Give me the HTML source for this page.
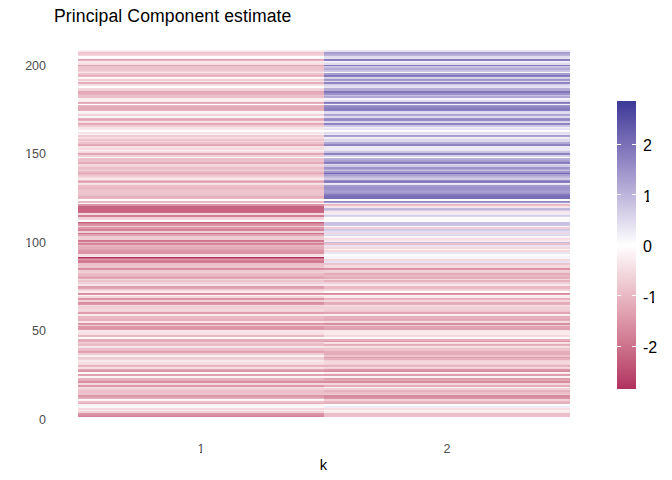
<!DOCTYPE html>
<html><head><meta charset="utf-8"><title>Principal Component estimate</title>
<style>
html,body{margin:0;padding:0;background:#fff;}
body{width:672px;height:480px;position:relative;overflow:hidden;font-family:"Liberation Sans",sans-serif;}
.t{position:absolute;white-space:nowrap;line-height:1;}
#title{left:54px;top:7.5px;font-size:17.6px;color:#000;letter-spacing:0.1px;}
.yl{font-size:12.5px;color:#4d4d4d;right:626px;text-align:right;}
.xl{font-size:12.5px;color:#4d4d4d;width:40px;text-align:center;}
#xt{font-size:14.67px;color:#000;width:40px;text-align:center;left:303.5px;top:457.5px;}
#hm{position:absolute;left:78px;top:50px;width:492px;height:367px;display:block;}
#bar{position:absolute;left:617px;top:101px;width:19px;height:288px;background:linear-gradient(to bottom,#3a3a98 0.00%,#4e48a1 4.17%,#6057a9 8.33%,#7167b2 12.50%,#8176bb 16.67%,#9186c3 20.83%,#a197cc 25.00%,#b1a7d4 29.17%,#c0b8dd 33.33%,#d0cae5 37.50%,#e0dbee 41.67%,#efedf6 45.83%,#ffffff 50.00%,#faeef1 54.17%,#f5dde3 58.33%,#f0cdd5 62.50%,#eabcc7 66.67%,#e4abb9 70.83%,#de9bac 75.00%,#d78a9f 79.17%,#d07a92 83.33%,#c86985 87.50%,#c15778 91.67%,#b8456c 95.83%,#b03060 100.00%);}
.m{position:absolute;background:#fff;}
.tk{position:absolute;height:1px;width:4px;background:#fff;}
.ll{font-size:16px;color:#000;left:643px;}
</style></head><body>
<div class="t" id="title">Principal Component estimate</div>
<div class="t yl" style="top:59.6px">200</div>
<div class="t yl" style="top:148.1px">150</div>
<div class="t yl" style="top:236.6px">100</div>
<div class="t yl" style="top:325.1px">50</div>
<div class="t yl" style="top:413.6px">0</div>
<svg id="hm" width="492" height="367" viewBox="0 0 492 367" shape-rendering="crispEdges">
<g>
<rect x="0" y="0" width="246" height="1" fill="#fbf2f4"/>
<rect x="0" y="1" width="246" height="1" fill="#f8e5e9"/>
<rect x="0" y="2" width="246" height="1" fill="#edc4ce"/>
<rect x="0" y="3" width="246" height="2" fill="#efcbd3"/>
<rect x="0" y="5" width="246" height="1" fill="#f4d8de"/>
<rect x="0" y="6" width="246" height="2" fill="#ffffff"/>
<rect x="0" y="8" width="246" height="1" fill="#fbf2f4"/>
<rect x="0" y="9" width="246" height="1" fill="#e1a4b4"/>
<rect x="0" y="10" width="246" height="1" fill="#e6b1be"/>
<rect x="0" y="11" width="246" height="2" fill="#f9e8ec"/>
<rect x="0" y="13" width="246" height="1" fill="#f7e2e6"/>
<rect x="0" y="14" width="246" height="1" fill="#f6dee3"/>
<rect x="0" y="15" width="246" height="1" fill="#e1a4b4"/>
<rect x="0" y="16" width="246" height="4" fill="#edc4ce"/>
<rect x="0" y="20" width="246" height="1" fill="#eec8d1"/>
<rect x="0" y="21" width="246" height="1" fill="#f1d1d9"/>
<rect x="0" y="22" width="246" height="1" fill="#f8e5e9"/>
<rect x="0" y="23" width="246" height="2" fill="#edc4ce"/>
<rect x="0" y="25" width="246" height="1" fill="#e4abb9"/>
<rect x="0" y="26" width="246" height="1" fill="#e9b8c3"/>
<rect x="0" y="27" width="246" height="1" fill="#fdf8f9"/>
<rect x="0" y="28" width="246" height="1" fill="#fbf2f4"/>
<rect x="0" y="29" width="246" height="2" fill="#efcbd3"/>
<rect x="0" y="31" width="246" height="1" fill="#faebee"/>
<rect x="0" y="32" width="246" height="1" fill="#e4abb9"/>
<rect x="0" y="33" width="246" height="1" fill="#e6b1be"/>
<rect x="0" y="34" width="246" height="2" fill="#f6dee3"/>
<rect x="0" y="36" width="246" height="2" fill="#ffffff"/>
<rect x="0" y="38" width="246" height="1" fill="#f4d8de"/>
<rect x="0" y="39" width="246" height="2" fill="#f1d1d9"/>
<rect x="0" y="41" width="246" height="1" fill="#e1a4b4"/>
<rect x="0" y="42" width="246" height="2" fill="#e4abb9"/>
<rect x="0" y="44" width="246" height="1" fill="#e6b1be"/>
<rect x="0" y="45" width="246" height="1" fill="#edc4ce"/>
<rect x="0" y="46" width="246" height="2" fill="#ebbec9"/>
<rect x="0" y="48" width="246" height="3" fill="#faeff1"/>
<rect x="0" y="51" width="246" height="1" fill="#faebee"/>
<rect x="0" y="52" width="246" height="1" fill="#e1a4b4"/>
<rect x="0" y="53" width="246" height="1" fill="#e6b1be"/>
<rect x="0" y="54" width="246" height="1" fill="#ffffff"/>
<rect x="0" y="55" width="246" height="1" fill="#e9b8c3"/>
<rect x="0" y="56" width="246" height="4" fill="#e4abb9"/>
<rect x="0" y="60" width="246" height="1" fill="#e6b1be"/>
<rect x="0" y="61" width="246" height="1" fill="#fcf5f7"/>
<rect x="0" y="62" width="246" height="1" fill="#fbf2f4"/>
<rect x="0" y="63" width="246" height="1" fill="#faeff1"/>
<rect x="0" y="64" width="246" height="2" fill="#f1d1d9"/>
<rect x="0" y="66" width="246" height="1" fill="#fcf5f7"/>
<rect x="0" y="67" width="246" height="1" fill="#fbf2f4"/>
<rect x="0" y="68" width="246" height="1" fill="#e6b1be"/>
<rect x="0" y="69" width="246" height="1" fill="#e1a4b4"/>
<rect x="0" y="70" width="246" height="1" fill="#e6b1be"/>
<rect x="0" y="71" width="246" height="1" fill="#f8e5e9"/>
<rect x="0" y="72" width="246" height="1" fill="#f6dee3"/>
<rect x="0" y="73" width="246" height="1" fill="#e1a4b4"/>
<rect x="0" y="74" width="246" height="1" fill="#e4abb9"/>
<rect x="0" y="75" width="246" height="2" fill="#efcbd3"/>
<rect x="0" y="77" width="246" height="2" fill="#f8e5e9"/>
<rect x="0" y="79" width="246" height="1" fill="#f9e8ec"/>
<rect x="0" y="80" width="246" height="1" fill="#ffffff"/>
<rect x="0" y="81" width="246" height="1" fill="#fefcfc"/>
<rect x="0" y="82" width="246" height="2" fill="#f8e5e9"/>
<rect x="0" y="84" width="246" height="1" fill="#fcf5f7"/>
<rect x="0" y="85" width="246" height="2" fill="#efcbd3"/>
<rect x="0" y="87" width="246" height="1" fill="#f6dee3"/>
<rect x="0" y="88" width="246" height="1" fill="#f4d8de"/>
<rect x="0" y="89" width="246" height="2" fill="#edc4ce"/>
<rect x="0" y="91" width="246" height="1" fill="#f4d8de"/>
<rect x="0" y="92" width="246" height="2" fill="#edc4ce"/>
<rect x="0" y="94" width="246" height="1" fill="#e4abb9"/>
<rect x="0" y="95" width="246" height="1" fill="#e1a4b4"/>
<rect x="0" y="96" width="246" height="1" fill="#f7e2e6"/>
<rect x="0" y="97" width="246" height="1" fill="#f6dee3"/>
<rect x="0" y="98" width="246" height="2" fill="#f5dbe1"/>
<rect x="0" y="100" width="246" height="1" fill="#faeff1"/>
<rect x="0" y="101" width="246" height="1" fill="#f6dee3"/>
<rect x="0" y="102" width="246" height="1" fill="#f4d8de"/>
<rect x="0" y="103" width="246" height="1" fill="#e1a4b4"/>
<rect x="0" y="104" width="246" height="1" fill="#e4abb9"/>
<rect x="0" y="105" width="246" height="2" fill="#f1d1d9"/>
<rect x="0" y="107" width="246" height="1" fill="#fefcfc"/>
<rect x="0" y="108" width="246" height="1" fill="#edc4ce"/>
<rect x="0" y="109" width="246" height="1" fill="#ebbec9"/>
<rect x="0" y="110" width="246" height="2" fill="#edc4ce"/>
<rect x="0" y="112" width="246" height="2" fill="#e4abb9"/>
<rect x="0" y="114" width="246" height="2" fill="#f4d8de"/>
<rect x="0" y="116" width="246" height="1" fill="#f1d1d9"/>
<rect x="0" y="117" width="246" height="2" fill="#ebbec9"/>
<rect x="0" y="119" width="246" height="1" fill="#edc4ce"/>
<rect x="0" y="120" width="246" height="1" fill="#f1d1d9"/>
<rect x="0" y="121" width="246" height="2" fill="#e9b8c3"/>
<rect x="0" y="123" width="246" height="1" fill="#e1a4b4"/>
<rect x="0" y="124" width="246" height="1" fill="#ebbec9"/>
<rect x="0" y="125" width="246" height="1" fill="#edc4ce"/>
<rect x="0" y="126" width="246" height="1" fill="#f1d1d9"/>
<rect x="0" y="127" width="246" height="1" fill="#f4d8de"/>
<rect x="0" y="128" width="246" height="2" fill="#f9e8ec"/>
<rect x="0" y="130" width="246" height="1" fill="#ebbec9"/>
<rect x="0" y="131" width="246" height="1" fill="#df9eae"/>
<rect x="0" y="132" width="246" height="1" fill="#e4abb9"/>
<rect x="0" y="133" width="246" height="1" fill="#f8e5e9"/>
<rect x="0" y="134" width="246" height="1" fill="#f6dee3"/>
<rect x="0" y="135" width="246" height="2" fill="#ebbec9"/>
<rect x="0" y="137" width="246" height="2" fill="#e9b8c3"/>
<rect x="0" y="139" width="246" height="1" fill="#ebbec9"/>
<rect x="0" y="140" width="246" height="5" fill="#edc4ce"/>
<rect x="0" y="145" width="246" height="1" fill="#ebbec9"/>
<rect x="0" y="146" width="246" height="2" fill="#e6b1be"/>
<rect x="0" y="148" width="246" height="1" fill="#e9b8c3"/>
<rect x="0" y="149" width="246" height="2" fill="#ffffff"/>
<rect x="0" y="151" width="246" height="1" fill="#e9b8c3"/>
<rect x="0" y="152" width="246" height="1" fill="#ebbec9"/>
<rect x="0" y="153" width="246" height="1" fill="#fcf5f7"/>
<rect x="0" y="154" width="246" height="1" fill="#dc98a9"/>
<rect x="0" y="155" width="246" height="1" fill="#da91a4"/>
<rect x="0" y="156" width="246" height="6" fill="#c66481"/>
<rect x="0" y="162" width="246" height="1" fill="#c96a86"/>
<rect x="0" y="163" width="246" height="2" fill="#f4d8de"/>
<rect x="0" y="165" width="246" height="2" fill="#d27e95"/>
<rect x="0" y="167" width="246" height="2" fill="#f1d1d9"/>
<rect x="0" y="169" width="246" height="1" fill="#f4d8de"/>
<rect x="0" y="170" width="246" height="2" fill="#fdf8f9"/>
<rect x="0" y="172" width="246" height="1" fill="#c66481"/>
<rect x="0" y="173" width="246" height="1" fill="#d27e95"/>
<rect x="0" y="174" width="246" height="2" fill="#da91a4"/>
<rect x="0" y="176" width="246" height="1" fill="#f1d1d9"/>
<rect x="0" y="177" width="246" height="2" fill="#dc98a9"/>
<rect x="0" y="179" width="246" height="2" fill="#d4849a"/>
<rect x="0" y="181" width="246" height="2" fill="#f1d1d9"/>
<rect x="0" y="183" width="246" height="1" fill="#cf7790"/>
<rect x="0" y="184" width="246" height="1" fill="#df9eae"/>
<rect x="0" y="185" width="246" height="1" fill="#e1a4b4"/>
<rect x="0" y="186" width="246" height="2" fill="#efcbd3"/>
<rect x="0" y="188" width="246" height="1" fill="#f1d1d9"/>
<rect x="0" y="189" width="246" height="1" fill="#efcbd3"/>
<rect x="0" y="190" width="246" height="2" fill="#cf7790"/>
<rect x="0" y="192" width="246" height="1" fill="#e9b8c3"/>
<rect x="0" y="193" width="246" height="1" fill="#d27e95"/>
<rect x="0" y="194" width="246" height="1" fill="#d78b9f"/>
<rect x="0" y="195" width="246" height="1" fill="#e9b8c3"/>
<rect x="0" y="196" width="246" height="1" fill="#e6b1be"/>
<rect x="0" y="197" width="246" height="2" fill="#e4abb9"/>
<rect x="0" y="199" width="246" height="1" fill="#e1a4b4"/>
<rect x="0" y="200" width="246" height="2" fill="#dc98a9"/>
<rect x="0" y="202" width="246" height="1" fill="#da91a4"/>
<rect x="0" y="203" width="246" height="1" fill="#dc98a9"/>
<rect x="0" y="204" width="246" height="2" fill="#f6dee3"/>
<rect x="0" y="206" width="246" height="1" fill="#f8e5e9"/>
<rect x="0" y="207" width="246" height="1" fill="#b03060"/>
<rect x="0" y="208" width="246" height="1" fill="#c96a86"/>
<rect x="0" y="209" width="246" height="1" fill="#dc98a9"/>
<rect x="0" y="210" width="246" height="1" fill="#d27e95"/>
<rect x="0" y="211" width="246" height="1" fill="#cf7790"/>
<rect x="0" y="212" width="246" height="1" fill="#d27e95"/>
<rect x="0" y="213" width="246" height="1" fill="#ebbec9"/>
<rect x="0" y="214" width="246" height="1" fill="#edc4ce"/>
<rect x="0" y="215" width="246" height="1" fill="#ebbec9"/>
<rect x="0" y="216" width="246" height="1" fill="#efcbd3"/>
<rect x="0" y="217" width="246" height="1" fill="#edc4ce"/>
<rect x="0" y="218" width="246" height="1" fill="#d78b9f"/>
<rect x="0" y="219" width="246" height="1" fill="#da91a4"/>
<rect x="0" y="220" width="246" height="2" fill="#efcbd3"/>
<rect x="0" y="222" width="246" height="1" fill="#f1d1d9"/>
<rect x="0" y="223" width="246" height="1" fill="#ebbec9"/>
<rect x="0" y="224" width="246" height="2" fill="#e9b8c3"/>
<rect x="0" y="226" width="246" height="1" fill="#e6b1be"/>
<rect x="0" y="227" width="246" height="1" fill="#df9eae"/>
<rect x="0" y="228" width="246" height="1" fill="#e4abb9"/>
<rect x="0" y="229" width="246" height="1" fill="#f4d8de"/>
<rect x="0" y="230" width="246" height="2" fill="#edc4ce"/>
<rect x="0" y="232" width="246" height="2" fill="#f1d1d9"/>
<rect x="0" y="234" width="246" height="2" fill="#f8e5e9"/>
<rect x="0" y="236" width="246" height="2" fill="#df9eae"/>
<rect x="0" y="238" width="246" height="1" fill="#e1a4b4"/>
<rect x="0" y="239" width="246" height="1" fill="#efcbd3"/>
<rect x="0" y="240" width="246" height="1" fill="#f4d8de"/>
<rect x="0" y="241" width="246" height="2" fill="#faebee"/>
<rect x="0" y="243" width="246" height="1" fill="#d78b9f"/>
<rect x="0" y="244" width="246" height="1" fill="#dc98a9"/>
<rect x="0" y="245" width="246" height="1" fill="#fcf5f7"/>
<rect x="0" y="246" width="246" height="2" fill="#f4d8de"/>
<rect x="0" y="248" width="246" height="1" fill="#da91a4"/>
<rect x="0" y="249" width="246" height="1" fill="#dc98a9"/>
<rect x="0" y="250" width="246" height="2" fill="#f1d1d9"/>
<rect x="0" y="252" width="246" height="1" fill="#d78b9f"/>
<rect x="0" y="253" width="246" height="1" fill="#da91a4"/>
<rect x="0" y="254" width="246" height="1" fill="#dc98a9"/>
<rect x="0" y="255" width="246" height="1" fill="#f4d8de"/>
<rect x="0" y="256" width="246" height="3" fill="#f1d1d9"/>
<rect x="0" y="259" width="246" height="2" fill="#f4d8de"/>
<rect x="0" y="261" width="246" height="1" fill="#f1d1d9"/>
<rect x="0" y="262" width="246" height="2" fill="#df9eae"/>
<rect x="0" y="264" width="246" height="2" fill="#faebee"/>
<rect x="0" y="266" width="246" height="3" fill="#e9b8c3"/>
<rect x="0" y="269" width="246" height="2" fill="#e6b1be"/>
<rect x="0" y="271" width="246" height="2" fill="#f8e5e9"/>
<rect x="0" y="273" width="246" height="1" fill="#da91a4"/>
<rect x="0" y="274" width="246" height="1" fill="#dc98a9"/>
<rect x="0" y="275" width="246" height="1" fill="#efcbd3"/>
<rect x="0" y="276" width="246" height="2" fill="#dc98a9"/>
<rect x="0" y="278" width="246" height="1" fill="#da91a4"/>
<rect x="0" y="279" width="246" height="1" fill="#df9eae"/>
<rect x="0" y="280" width="246" height="2" fill="#f8e5e9"/>
<rect x="0" y="282" width="246" height="2" fill="#f7e2e6"/>
<rect x="0" y="284" width="246" height="1" fill="#f6dee3"/>
<rect x="0" y="285" width="246" height="2" fill="#e9b8c3"/>
<rect x="0" y="287" width="246" height="1" fill="#fefcfc"/>
<rect x="0" y="288" width="246" height="1" fill="#fcf5f7"/>
<rect x="0" y="289" width="246" height="3" fill="#e4abb9"/>
<rect x="0" y="292" width="246" height="1" fill="#efcbd3"/>
<rect x="0" y="293" width="246" height="1" fill="#edc4ce"/>
<rect x="0" y="294" width="246" height="1" fill="#e9b8c3"/>
<rect x="0" y="295" width="246" height="1" fill="#ebbec9"/>
<rect x="0" y="296" width="246" height="2" fill="#f8e5e9"/>
<rect x="0" y="298" width="246" height="2" fill="#ebbec9"/>
<rect x="0" y="300" width="246" height="1" fill="#e9b8c3"/>
<rect x="0" y="301" width="246" height="1" fill="#df9eae"/>
<rect x="0" y="302" width="246" height="1" fill="#e1a4b4"/>
<rect x="0" y="303" width="246" height="2" fill="#efcbd3"/>
<rect x="0" y="305" width="246" height="2" fill="#faeff1"/>
<rect x="0" y="307" width="246" height="2" fill="#efcbd3"/>
<rect x="0" y="309" width="246" height="1" fill="#f1d1d9"/>
<rect x="0" y="310" width="246" height="2" fill="#f9e8ec"/>
<rect x="0" y="312" width="246" height="2" fill="#f6dee3"/>
<rect x="0" y="314" width="246" height="1" fill="#f4d8de"/>
<rect x="0" y="315" width="246" height="1" fill="#e6b1be"/>
<rect x="0" y="316" width="246" height="1" fill="#e9b8c3"/>
<rect x="0" y="317" width="246" height="2" fill="#f6dee3"/>
<rect x="0" y="319" width="246" height="1" fill="#e1a4b4"/>
<rect x="0" y="320" width="246" height="1" fill="#df9eae"/>
<rect x="0" y="321" width="246" height="1" fill="#da91a4"/>
<rect x="0" y="322" width="246" height="2" fill="#ffffff"/>
<rect x="0" y="324" width="246" height="1" fill="#df9eae"/>
<rect x="0" y="325" width="246" height="1" fill="#e1a4b4"/>
<rect x="0" y="326" width="246" height="1" fill="#fcf5f7"/>
<rect x="0" y="327" width="246" height="1" fill="#fbf2f4"/>
<rect x="0" y="328" width="246" height="2" fill="#e6b1be"/>
<rect x="0" y="330" width="246" height="1" fill="#e4abb9"/>
<rect x="0" y="331" width="246" height="1" fill="#d78b9f"/>
<rect x="0" y="332" width="246" height="1" fill="#da91a4"/>
<rect x="0" y="333" width="246" height="2" fill="#f4d8de"/>
<rect x="0" y="335" width="246" height="2" fill="#dc98a9"/>
<rect x="0" y="337" width="246" height="1" fill="#f6dee3"/>
<rect x="0" y="338" width="246" height="2" fill="#f1d1d9"/>
<rect x="0" y="340" width="246" height="3" fill="#ebbec9"/>
<rect x="0" y="343" width="246" height="2" fill="#edc4ce"/>
<rect x="0" y="345" width="246" height="2" fill="#dc98a9"/>
<rect x="0" y="347" width="246" height="1" fill="#e1a4b4"/>
<rect x="0" y="348" width="246" height="1" fill="#e6b1be"/>
<rect x="0" y="349" width="246" height="1" fill="#fdf8f9"/>
<rect x="0" y="350" width="246" height="1" fill="#fcf5f7"/>
<rect x="0" y="351" width="246" height="2" fill="#ebbec9"/>
<rect x="0" y="353" width="246" height="1" fill="#e4abb9"/>
<rect x="0" y="354" width="246" height="1" fill="#fcf5f7"/>
<rect x="0" y="355" width="246" height="1" fill="#fbf2f4"/>
<rect x="0" y="356" width="246" height="2" fill="#fdf8f9"/>
<rect x="0" y="358" width="246" height="2" fill="#f4d8de"/>
<rect x="0" y="360" width="246" height="1" fill="#faebee"/>
<rect x="0" y="361" width="246" height="2" fill="#f1d1d9"/>
<rect x="0" y="363" width="246" height="1" fill="#dc98a9"/>
<rect x="0" y="364" width="246" height="1" fill="#da91a4"/>
<rect x="0" y="365" width="246" height="1" fill="#d78b9f"/>
<rect x="0" y="366" width="246" height="1" fill="#d4849a"/>
</g>
<g>
<rect x="246" y="0" width="246" height="2" fill="#e7e3f2"/>
<rect x="246" y="2" width="246" height="1" fill="#a49acd"/>
<rect x="246" y="3" width="246" height="1" fill="#aaa0d1"/>
<rect x="246" y="4" width="246" height="1" fill="#b6add7"/>
<rect x="246" y="5" width="246" height="1" fill="#bcb4db"/>
<rect x="246" y="6" width="246" height="2" fill="#e1dcee"/>
<rect x="246" y="8" width="246" height="1" fill="#e7e3f2"/>
<rect x="246" y="9" width="246" height="1" fill="#857abd"/>
<rect x="246" y="10" width="246" height="1" fill="#8b81c0"/>
<rect x="246" y="11" width="246" height="1" fill="#f6f5fa"/>
<rect x="246" y="12" width="246" height="1" fill="#edeaf5"/>
<rect x="246" y="13" width="246" height="2" fill="#e1dcee"/>
<rect x="246" y="15" width="246" height="1" fill="#857abd"/>
<rect x="246" y="16" width="246" height="1" fill="#cec8e5"/>
<rect x="246" y="17" width="246" height="1" fill="#c2bbde"/>
<rect x="246" y="18" width="246" height="2" fill="#b6add7"/>
<rect x="246" y="20" width="246" height="1" fill="#c8c1e1"/>
<rect x="246" y="21" width="246" height="1" fill="#cec8e5"/>
<rect x="246" y="22" width="246" height="1" fill="#f6f5fa"/>
<rect x="246" y="23" width="246" height="1" fill="#a49acd"/>
<rect x="246" y="24" width="246" height="1" fill="#aaa0d1"/>
<rect x="246" y="25" width="246" height="1" fill="#7f74b9"/>
<rect x="246" y="26" width="246" height="1" fill="#8b81c0"/>
<rect x="246" y="27" width="246" height="1" fill="#dad6eb"/>
<rect x="246" y="28" width="246" height="1" fill="#d4cfe8"/>
<rect x="246" y="29" width="246" height="1" fill="#9e94ca"/>
<rect x="246" y="30" width="246" height="1" fill="#a49acd"/>
<rect x="246" y="31" width="246" height="1" fill="#e1dcee"/>
<rect x="246" y="32" width="246" height="1" fill="#8b81c0"/>
<rect x="246" y="33" width="246" height="1" fill="#9187c3"/>
<rect x="246" y="34" width="246" height="1" fill="#d4cfe8"/>
<rect x="246" y="35" width="246" height="1" fill="#dad6eb"/>
<rect x="246" y="36" width="246" height="2" fill="#e7e3f2"/>
<rect x="246" y="38" width="246" height="2" fill="#b6add7"/>
<rect x="246" y="40" width="246" height="1" fill="#b0a7d4"/>
<rect x="246" y="41" width="246" height="1" fill="#7f74b9"/>
<rect x="246" y="42" width="246" height="1" fill="#857abd"/>
<rect x="246" y="43" width="246" height="1" fill="#988dc7"/>
<rect x="246" y="44" width="246" height="1" fill="#9e94ca"/>
<rect x="246" y="45" width="246" height="1" fill="#c8c1e1"/>
<rect x="246" y="46" width="246" height="2" fill="#b0a7d4"/>
<rect x="246" y="48" width="246" height="2" fill="#f6f5fa"/>
<rect x="246" y="50" width="246" height="2" fill="#e1dcee"/>
<rect x="246" y="52" width="246" height="1" fill="#7f74b9"/>
<rect x="246" y="53" width="246" height="1" fill="#9187c3"/>
<rect x="246" y="54" width="246" height="1" fill="#f3f1f8"/>
<rect x="246" y="55" width="246" height="1" fill="#9e94ca"/>
<rect x="246" y="56" width="246" height="1" fill="#988dc7"/>
<rect x="246" y="57" width="246" height="2" fill="#8b81c0"/>
<rect x="246" y="59" width="246" height="1" fill="#857abd"/>
<rect x="246" y="60" width="246" height="1" fill="#8b81c0"/>
<rect x="246" y="61" width="246" height="1" fill="#dad6eb"/>
<rect x="246" y="62" width="246" height="2" fill="#e1dcee"/>
<rect x="246" y="64" width="246" height="1" fill="#aaa0d1"/>
<rect x="246" y="65" width="246" height="1" fill="#b0a7d4"/>
<rect x="246" y="66" width="246" height="1" fill="#e1dcee"/>
<rect x="246" y="67" width="246" height="1" fill="#dad6eb"/>
<rect x="246" y="68" width="246" height="1" fill="#9e94ca"/>
<rect x="246" y="69" width="246" height="1" fill="#9187c3"/>
<rect x="246" y="70" width="246" height="1" fill="#988dc7"/>
<rect x="246" y="71" width="246" height="1" fill="#d4cfe8"/>
<rect x="246" y="72" width="246" height="1" fill="#e1dcee"/>
<rect x="246" y="73" width="246" height="1" fill="#8b81c0"/>
<rect x="246" y="74" width="246" height="1" fill="#9187c3"/>
<rect x="246" y="75" width="246" height="2" fill="#cec8e5"/>
<rect x="246" y="77" width="246" height="1" fill="#f3f1f8"/>
<rect x="246" y="78" width="246" height="2" fill="#e7e3f2"/>
<rect x="246" y="80" width="246" height="1" fill="#ffffff"/>
<rect x="246" y="81" width="246" height="1" fill="#fcfbfd"/>
<rect x="246" y="82" width="246" height="2" fill="#e1dcee"/>
<rect x="246" y="84" width="246" height="1" fill="#edeaf5"/>
<rect x="246" y="85" width="246" height="1" fill="#a49acd"/>
<rect x="246" y="86" width="246" height="1" fill="#aaa0d1"/>
<rect x="246" y="87" width="246" height="1" fill="#f3f1f8"/>
<rect x="246" y="88" width="246" height="1" fill="#edeaf5"/>
<rect x="246" y="89" width="246" height="2" fill="#dad6eb"/>
<rect x="246" y="91" width="246" height="1" fill="#e1dcee"/>
<rect x="246" y="92" width="246" height="2" fill="#b0a7d4"/>
<rect x="246" y="94" width="246" height="1" fill="#9187c3"/>
<rect x="246" y="95" width="246" height="1" fill="#8b81c0"/>
<rect x="246" y="96" width="246" height="4" fill="#edeaf5"/>
<rect x="246" y="100" width="246" height="1" fill="#e7e3f2"/>
<rect x="246" y="101" width="246" height="1" fill="#cec8e5"/>
<rect x="246" y="102" width="246" height="1" fill="#c8c1e1"/>
<rect x="246" y="103" width="246" height="1" fill="#8b81c0"/>
<rect x="246" y="104" width="246" height="1" fill="#9187c3"/>
<rect x="246" y="105" width="246" height="1" fill="#d4cfe8"/>
<rect x="246" y="106" width="246" height="1" fill="#dad6eb"/>
<rect x="246" y="107" width="246" height="1" fill="#ffffff"/>
<rect x="246" y="108" width="246" height="1" fill="#bcb4db"/>
<rect x="246" y="109" width="246" height="1" fill="#b6add7"/>
<rect x="246" y="110" width="246" height="1" fill="#aaa0d1"/>
<rect x="246" y="111" width="246" height="1" fill="#a49acd"/>
<rect x="246" y="112" width="246" height="1" fill="#857abd"/>
<rect x="246" y="113" width="246" height="1" fill="#8b81c0"/>
<rect x="246" y="114" width="246" height="1" fill="#e1dcee"/>
<rect x="246" y="115" width="246" height="2" fill="#cec8e5"/>
<rect x="246" y="117" width="246" height="2" fill="#9e94ca"/>
<rect x="246" y="119" width="246" height="1" fill="#b0a7d4"/>
<rect x="246" y="120" width="246" height="1" fill="#c8c1e1"/>
<rect x="246" y="121" width="246" height="1" fill="#a49acd"/>
<rect x="246" y="122" width="246" height="1" fill="#9e94ca"/>
<rect x="246" y="123" width="246" height="1" fill="#7268b3"/>
<rect x="246" y="124" width="246" height="2" fill="#aaa0d1"/>
<rect x="246" y="126" width="246" height="1" fill="#bcb4db"/>
<rect x="246" y="127" width="246" height="1" fill="#c2bbde"/>
<rect x="246" y="128" width="246" height="1" fill="#d4cfe8"/>
<rect x="246" y="129" width="246" height="1" fill="#cec8e5"/>
<rect x="246" y="130" width="246" height="1" fill="#988dc7"/>
<rect x="246" y="131" width="246" height="1" fill="#7f74b9"/>
<rect x="246" y="132" width="246" height="1" fill="#8b81c0"/>
<rect x="246" y="133" width="246" height="1" fill="#edeaf5"/>
<rect x="246" y="134" width="246" height="1" fill="#e7e3f2"/>
<rect x="246" y="135" width="246" height="2" fill="#a49acd"/>
<rect x="246" y="137" width="246" height="1" fill="#988dc7"/>
<rect x="246" y="138" width="246" height="2" fill="#9e94ca"/>
<rect x="246" y="140" width="246" height="1" fill="#a49acd"/>
<rect x="246" y="141" width="246" height="1" fill="#aaa0d1"/>
<rect x="246" y="142" width="246" height="1" fill="#a49acd"/>
<rect x="246" y="143" width="246" height="1" fill="#9e94ca"/>
<rect x="246" y="144" width="246" height="1" fill="#857abd"/>
<rect x="246" y="145" width="246" height="1" fill="#7f74b9"/>
<rect x="246" y="146" width="246" height="3" fill="#786eb6"/>
<rect x="246" y="149" width="246" height="2" fill="#ffffff"/>
<rect x="246" y="151" width="246" height="1" fill="#9187c3"/>
<rect x="246" y="152" width="246" height="1" fill="#a49acd"/>
<rect x="246" y="153" width="246" height="1" fill="#f3f1f8"/>
<rect x="246" y="154" width="246" height="1" fill="#e9b8c3"/>
<rect x="246" y="155" width="246" height="1" fill="#ebbec9"/>
<rect x="246" y="156" width="246" height="2" fill="#f8e5e9"/>
<rect x="246" y="158" width="246" height="1" fill="#c2bbde"/>
<rect x="246" y="159" width="246" height="1" fill="#bcb4db"/>
<rect x="246" y="160" width="246" height="1" fill="#d4cfe8"/>
<rect x="246" y="161" width="246" height="2" fill="#f8e5e9"/>
<rect x="246" y="163" width="246" height="1" fill="#f0eef7"/>
<rect x="246" y="164" width="246" height="1" fill="#edeaf5"/>
<rect x="246" y="165" width="246" height="1" fill="#d4cfe8"/>
<rect x="246" y="166" width="246" height="1" fill="#dad6eb"/>
<rect x="246" y="167" width="246" height="1" fill="#fcfbfd"/>
<rect x="246" y="168" width="246" height="1" fill="#ffffff"/>
<rect x="246" y="169" width="246" height="1" fill="#fbf2f4"/>
<rect x="246" y="170" width="246" height="1" fill="#ffffff"/>
<rect x="246" y="171" width="246" height="1" fill="#fcfbfd"/>
<rect x="246" y="172" width="246" height="3" fill="#c8c1e1"/>
<rect x="246" y="175" width="246" height="1" fill="#cec8e5"/>
<rect x="246" y="176" width="246" height="1" fill="#f6f5fa"/>
<rect x="246" y="177" width="246" height="1" fill="#efcbd3"/>
<rect x="246" y="178" width="246" height="1" fill="#f1d1d9"/>
<rect x="246" y="179" width="246" height="1" fill="#cec8e5"/>
<rect x="246" y="180" width="246" height="1" fill="#d4cfe8"/>
<rect x="246" y="181" width="246" height="2" fill="#e1dcee"/>
<rect x="246" y="183" width="246" height="1" fill="#f4d8de"/>
<rect x="246" y="184" width="246" height="1" fill="#e1dcee"/>
<rect x="246" y="185" width="246" height="1" fill="#dad6eb"/>
<rect x="246" y="186" width="246" height="1" fill="#fdf8f9"/>
<rect x="246" y="187" width="246" height="1" fill="#fbf2f4"/>
<rect x="246" y="188" width="246" height="2" fill="#f6dee3"/>
<rect x="246" y="190" width="246" height="1" fill="#f8e5e9"/>
<rect x="246" y="191" width="246" height="1" fill="#f9e8ec"/>
<rect x="246" y="192" width="246" height="1" fill="#c2bbde"/>
<rect x="246" y="193" width="246" height="2" fill="#ebbec9"/>
<rect x="246" y="195" width="246" height="2" fill="#e7e3f2"/>
<rect x="246" y="197" width="246" height="2" fill="#f4d8de"/>
<rect x="246" y="199" width="246" height="1" fill="#fbf2f4"/>
<rect x="246" y="200" width="246" height="2" fill="#f4d8de"/>
<rect x="246" y="202" width="246" height="2" fill="#eae7f3"/>
<rect x="246" y="204" width="246" height="2" fill="#ffffff"/>
<rect x="246" y="206" width="246" height="3" fill="#f6f5fa"/>
<rect x="246" y="209" width="246" height="2" fill="#f4d8de"/>
<rect x="246" y="211" width="246" height="2" fill="#e7e3f2"/>
<rect x="246" y="213" width="246" height="2" fill="#edc4ce"/>
<rect x="246" y="215" width="246" height="1" fill="#f6dee3"/>
<rect x="246" y="216" width="246" height="2" fill="#f4d8de"/>
<rect x="246" y="218" width="246" height="1" fill="#da91a4"/>
<rect x="246" y="219" width="246" height="1" fill="#dc98a9"/>
<rect x="246" y="220" width="246" height="2" fill="#f1d1d9"/>
<rect x="246" y="222" width="246" height="1" fill="#efcbd3"/>
<rect x="246" y="223" width="246" height="2" fill="#e4abb9"/>
<rect x="246" y="225" width="246" height="2" fill="#e9b8c3"/>
<rect x="246" y="227" width="246" height="1" fill="#e4abb9"/>
<rect x="246" y="228" width="246" height="1" fill="#e6b1be"/>
<rect x="246" y="229" width="246" height="1" fill="#f4d8de"/>
<rect x="246" y="230" width="246" height="2" fill="#e6b1be"/>
<rect x="246" y="232" width="246" height="2" fill="#f1d1d9"/>
<rect x="246" y="234" width="246" height="2" fill="#f9e8ec"/>
<rect x="246" y="236" width="246" height="3" fill="#e9b8c3"/>
<rect x="246" y="239" width="246" height="1" fill="#f1d1d9"/>
<rect x="246" y="240" width="246" height="1" fill="#f4d8de"/>
<rect x="246" y="241" width="246" height="2" fill="#ffffff"/>
<rect x="246" y="243" width="246" height="1" fill="#d78b9f"/>
<rect x="246" y="244" width="246" height="1" fill="#dc98a9"/>
<rect x="246" y="245" width="246" height="1" fill="#fbf2f4"/>
<rect x="246" y="246" width="246" height="2" fill="#faebee"/>
<rect x="246" y="248" width="246" height="1" fill="#e6b1be"/>
<rect x="246" y="249" width="246" height="1" fill="#e9b8c3"/>
<rect x="246" y="250" width="246" height="2" fill="#f4d8de"/>
<rect x="246" y="252" width="246" height="2" fill="#e4abb9"/>
<rect x="246" y="254" width="246" height="1" fill="#e6b1be"/>
<rect x="246" y="255" width="246" height="1" fill="#f6dee3"/>
<rect x="246" y="256" width="246" height="1" fill="#f4d8de"/>
<rect x="246" y="257" width="246" height="4" fill="#f1d1d9"/>
<rect x="246" y="261" width="246" height="1" fill="#edc4ce"/>
<rect x="246" y="262" width="246" height="2" fill="#e1a4b4"/>
<rect x="246" y="264" width="246" height="2" fill="#faeff1"/>
<rect x="246" y="266" width="246" height="1" fill="#e4abb9"/>
<rect x="246" y="267" width="246" height="2" fill="#e6b1be"/>
<rect x="246" y="269" width="246" height="1" fill="#e1a4b4"/>
<rect x="246" y="270" width="246" height="1" fill="#e4abb9"/>
<rect x="246" y="271" width="246" height="1" fill="#f6dee3"/>
<rect x="246" y="272" width="246" height="1" fill="#f4d8de"/>
<rect x="246" y="273" width="246" height="1" fill="#d78b9f"/>
<rect x="246" y="274" width="246" height="1" fill="#da91a4"/>
<rect x="246" y="275" width="246" height="1" fill="#efcbd3"/>
<rect x="246" y="276" width="246" height="2" fill="#e1a4b4"/>
<rect x="246" y="278" width="246" height="1" fill="#df9eae"/>
<rect x="246" y="279" width="246" height="1" fill="#e1a4b4"/>
<rect x="246" y="280" width="246" height="1" fill="#f7e2e6"/>
<rect x="246" y="281" width="246" height="3" fill="#faebee"/>
<rect x="246" y="284" width="246" height="1" fill="#f9e8ec"/>
<rect x="246" y="285" width="246" height="2" fill="#f4d8de"/>
<rect x="246" y="287" width="246" height="1" fill="#fefcfc"/>
<rect x="246" y="288" width="246" height="1" fill="#fdf8f9"/>
<rect x="246" y="289" width="246" height="2" fill="#e4abb9"/>
<rect x="246" y="291" width="246" height="1" fill="#dc98a9"/>
<rect x="246" y="292" width="246" height="1" fill="#f8e5e9"/>
<rect x="246" y="293" width="246" height="1" fill="#f6dee3"/>
<rect x="246" y="294" width="246" height="1" fill="#e4abb9"/>
<rect x="246" y="295" width="246" height="1" fill="#e6b1be"/>
<rect x="246" y="296" width="246" height="1" fill="#f7e2e6"/>
<rect x="246" y="297" width="246" height="1" fill="#f6dee3"/>
<rect x="246" y="298" width="246" height="3" fill="#edc4ce"/>
<rect x="246" y="301" width="246" height="4" fill="#e4abb9"/>
<rect x="246" y="305" width="246" height="2" fill="#edc4ce"/>
<rect x="246" y="307" width="246" height="1" fill="#df9eae"/>
<rect x="246" y="308" width="246" height="2" fill="#e6b1be"/>
<rect x="246" y="310" width="246" height="1" fill="#f1d1d9"/>
<rect x="246" y="311" width="246" height="3" fill="#f4d8de"/>
<rect x="246" y="314" width="246" height="1" fill="#f1d1d9"/>
<rect x="246" y="315" width="246" height="1" fill="#e6b1be"/>
<rect x="246" y="316" width="246" height="1" fill="#e9b8c3"/>
<rect x="246" y="317" width="246" height="1" fill="#f4d8de"/>
<rect x="246" y="318" width="246" height="1" fill="#f1d1d9"/>
<rect x="246" y="319" width="246" height="1" fill="#dc98a9"/>
<rect x="246" y="320" width="246" height="1" fill="#da91a4"/>
<rect x="246" y="321" width="246" height="1" fill="#d78b9f"/>
<rect x="246" y="322" width="246" height="1" fill="#fcf5f7"/>
<rect x="246" y="323" width="246" height="1" fill="#faebee"/>
<rect x="246" y="324" width="246" height="2" fill="#df9eae"/>
<rect x="246" y="326" width="246" height="1" fill="#fcf5f7"/>
<rect x="246" y="327" width="246" height="1" fill="#fbf2f4"/>
<rect x="246" y="328" width="246" height="2" fill="#df9eae"/>
<rect x="246" y="330" width="246" height="1" fill="#e4abb9"/>
<rect x="246" y="331" width="246" height="2" fill="#d78b9f"/>
<rect x="246" y="333" width="246" height="2" fill="#f4d8de"/>
<rect x="246" y="335" width="246" height="2" fill="#e4abb9"/>
<rect x="246" y="337" width="246" height="1" fill="#fcf5f7"/>
<rect x="246" y="338" width="246" height="2" fill="#f1d1d9"/>
<rect x="246" y="340" width="246" height="2" fill="#e6b1be"/>
<rect x="246" y="342" width="246" height="2" fill="#ebbec9"/>
<rect x="246" y="344" width="246" height="1" fill="#efcbd3"/>
<rect x="246" y="345" width="246" height="3" fill="#d78b9f"/>
<rect x="246" y="348" width="246" height="1" fill="#dc98a9"/>
<rect x="246" y="349" width="246" height="2" fill="#f1d1d9"/>
<rect x="246" y="351" width="246" height="1" fill="#e9b8c3"/>
<rect x="246" y="352" width="246" height="2" fill="#e6b1be"/>
<rect x="246" y="354" width="246" height="2" fill="#ffffff"/>
<rect x="246" y="356" width="246" height="1" fill="#edeaf5"/>
<rect x="246" y="357" width="246" height="1" fill="#f0eef7"/>
<rect x="246" y="358" width="246" height="2" fill="#f6dee3"/>
<rect x="246" y="360" width="246" height="1" fill="#fcf5f7"/>
<rect x="246" y="361" width="246" height="2" fill="#faebee"/>
<rect x="246" y="363" width="246" height="4" fill="#ebbec9"/>
</g>
</svg>
<div class="t xl" style="left:181px;top:442.9px">1</div>
<div class="t xl" style="left:427px;top:442.9px">2</div>
<div class="t" id="xt">k</div>
<div id="bar"></div>
<div class="tk" style="left:617px;top:143.5px"></div><div class="tk" style="left:632px;top:143.5px"></div>
<div class="tk" style="left:617px;top:194.0px"></div><div class="tk" style="left:632px;top:194.0px"></div>
<div class="tk" style="left:617px;top:244.5px"></div><div class="tk" style="left:632px;top:244.5px"></div>
<div class="tk" style="left:617px;top:295.0px"></div><div class="tk" style="left:632px;top:295.0px"></div>
<div class="tk" style="left:617px;top:345.5px"></div><div class="tk" style="left:632px;top:345.5px"></div>

<div class="t ll" style="top:138px">2</div>
<div class="t ll" style="top:188.5px">1</div>
<div class="t ll" style="top:239px">0</div>
<div class="t ll" style="top:289.5px">-1</div>
<div class="t ll" style="top:340px">-2</div>
<div class="m" style="left:643px;top:200px;width:3px;height:2px"></div>
<div class="m" style="left:649px;top:200px;width:3px;height:2px"></div>
<div class="m" style="left:649px;top:301px;width:3px;height:2px"></div>
<div class="m" style="left:654px;top:301px;width:4px;height:2px"></div>
<div class="m" style="left:25px;top:157px;width:3px;height:1px"></div>
<div class="m" style="left:30px;top:157px;width:2px;height:1px"></div>
<div class="m" style="left:25px;top:246px;width:3px;height:1px"></div>
<div class="m" style="left:30px;top:246px;width:2px;height:1px"></div>
<div class="m" style="left:197px;top:452px;width:3px;height:1px"></div>
<div class="m" style="left:202px;top:452px;width:3px;height:1px"></div>
</body></html>
